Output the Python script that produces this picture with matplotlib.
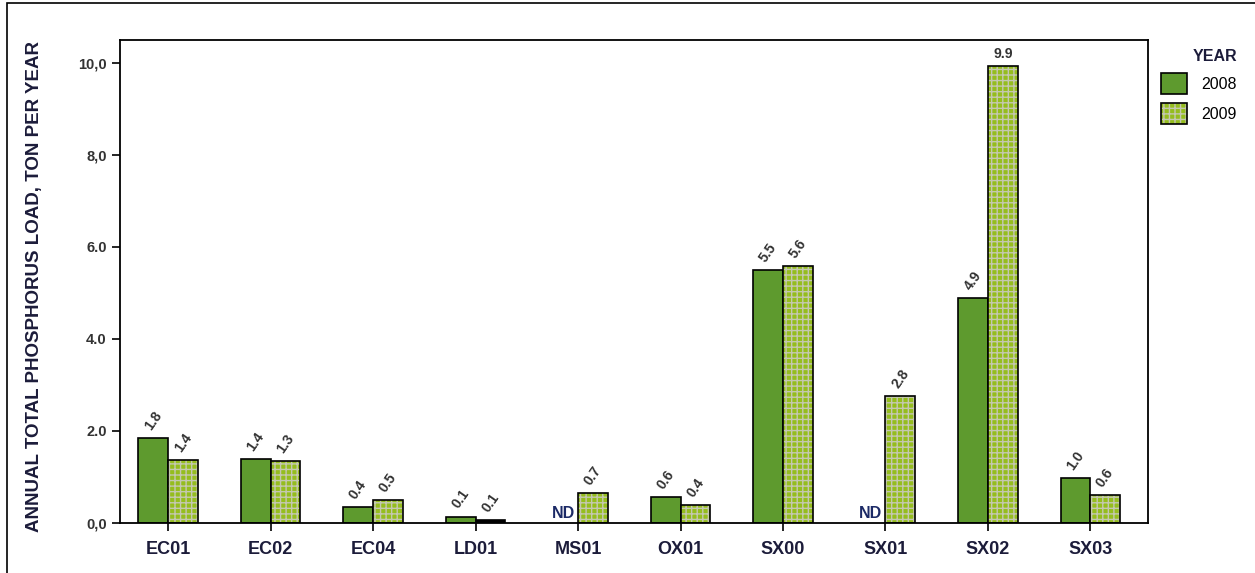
import matplotlib.pyplot as plt
import numpy as np
from matplotlib.patches import Patch, Rectangle

# Annual total phosphorus load per station (ton/year); None = no data
stations = ["EC01", "EC02", "EC04", "LD01", "MS01", "OX01", "SX00", "SX01", "SX02", "SX03"]
load_2008 = [1.85, 1.38, 0.35, 0.14, None, 0.57, 5.5, None, 4.88, 0.98]
load_2009 = [1.37, 1.34, 0.50, 0.07, 0.65, 0.38, 5.59, 2.75, 9.93, 0.60]
labels_2008 = ["1.8", "1.4", "0.4", "0.1", "ND", "0.6", "5.5", "ND", "4.9", "1.0"]
labels_2009 = ["1.4", "1.3", "0.5", "0.1", "0.7", "0.4", "5.6", "2.8", "9.9", "0.6"]
yticks = [0, 2, 4, 6, 8, 10]
ytick_labels = ["0,0", "2.0", "4.0", "6.0", "8,0", "10,0"]

C2008 = "#5e9a2e"
C2009 = "#95bd1e"
HATCH_C = "#c4c8b0"
TXT = "#1c1c3a"

plt.rcParams["font.family"] = ["Liberation Sans", "DejaVu Sans"]

fig = plt.figure(figsize=(12.55, 5.73), dpi=100)
ax = fig.add_axes([0.0956, 0.0873, 0.819, 0.843])

# outer frame (only left/top visible in the reference)
fig.patches.append(Rectangle((0.0056, -0.05), 1.1, 1.045, transform=fig.transFigure,
                             fill=False, edgecolor="black", linewidth=1.2))

x = np.arange(len(stations))
w = 0.29

for i in x:
    v8, v9 = load_2008[i], load_2009[i]
    if v8 is not None:
        ax.bar(i - w / 2, v8, w, color=C2008, edgecolor="black", linewidth=1.2, zorder=2)
        ax.text(i - w / 2, v8 + 0.12, labels_2008[i], rotation=55, ha="center", va="bottom",
                fontsize=10, fontweight="bold", color="#333333")
    else:
        ax.text(i - w / 2, 0.05, labels_2008[i], ha="center", va="bottom",
                fontsize=11.5, fontweight="bold", color="#1c2a66")
    if stations[i] == "LD01":
        ax.bar(i + w / 2, v9, w, color="black", edgecolor="black", linewidth=1.2, zorder=2)
    else:
        ax.bar(i + w / 2, v9, w, color=C2009, edgecolor=HATCH_C, hatch="+++",
               linewidth=0, zorder=2)
        ax.bar(i + w / 2, v9, w, fill=False, edgecolor="black", linewidth=1.2, zorder=3)
    ax.text(i + w / 2, v9 + 0.12, labels_2009[i], rotation=55 if v9 < 9 else 0,
            ha="center", va="bottom", fontsize=10, fontweight="bold", color="#333333")

ax.set_xlim(-0.47, 9.56)
ax.set_ylim(0, 10.5)
ax.set_yticks(yticks)
ax.set_yticklabels(ytick_labels, fontsize=10.5, fontweight="bold", color="#333333")
ax.set_xticks(x)
ax.set_xticklabels(stations, fontsize=13, fontweight="bold", color=TXT)
ax.tick_params(axis="both", length=6, width=1.2, color="black")
ax.tick_params(axis="x", pad=7)
for s in ax.spines.values():
    s.set_linewidth(1.3)
ax.set_ylabel("ANNUAL TOTAL PHOSPHORUS LOAD, TON PER YEAR", fontsize=13.5,
              fontweight="bold", color=TXT)
ax.yaxis.set_label_coords(-0.075, 0.49)

h2008 = Patch(facecolor=C2008, edgecolor="black", linewidth=1.2)
h2009 = (Patch(facecolor=C2009, edgecolor=HATCH_C, hatch="+++", linewidth=0),
         Patch(fill=False, edgecolor="black", linewidth=1.2))
leg = fig.legend(handles=[h2008, h2009], labels=["2008", "2009"], loc="upper left",
                 bbox_to_anchor=(0.914, 0.94), frameon=False, title="YEAR", fontsize=11.5,
                 handlelength=1.6, handleheight=1.6, labelspacing=0.6, handletextpad=0.9,
                 title_fontproperties={"weight": "bold", "size": 11.5})
leg.get_title().set_color(TXT)
leg._legend_box.align = "right"

fig.savefig("out.png", dpi=100)
